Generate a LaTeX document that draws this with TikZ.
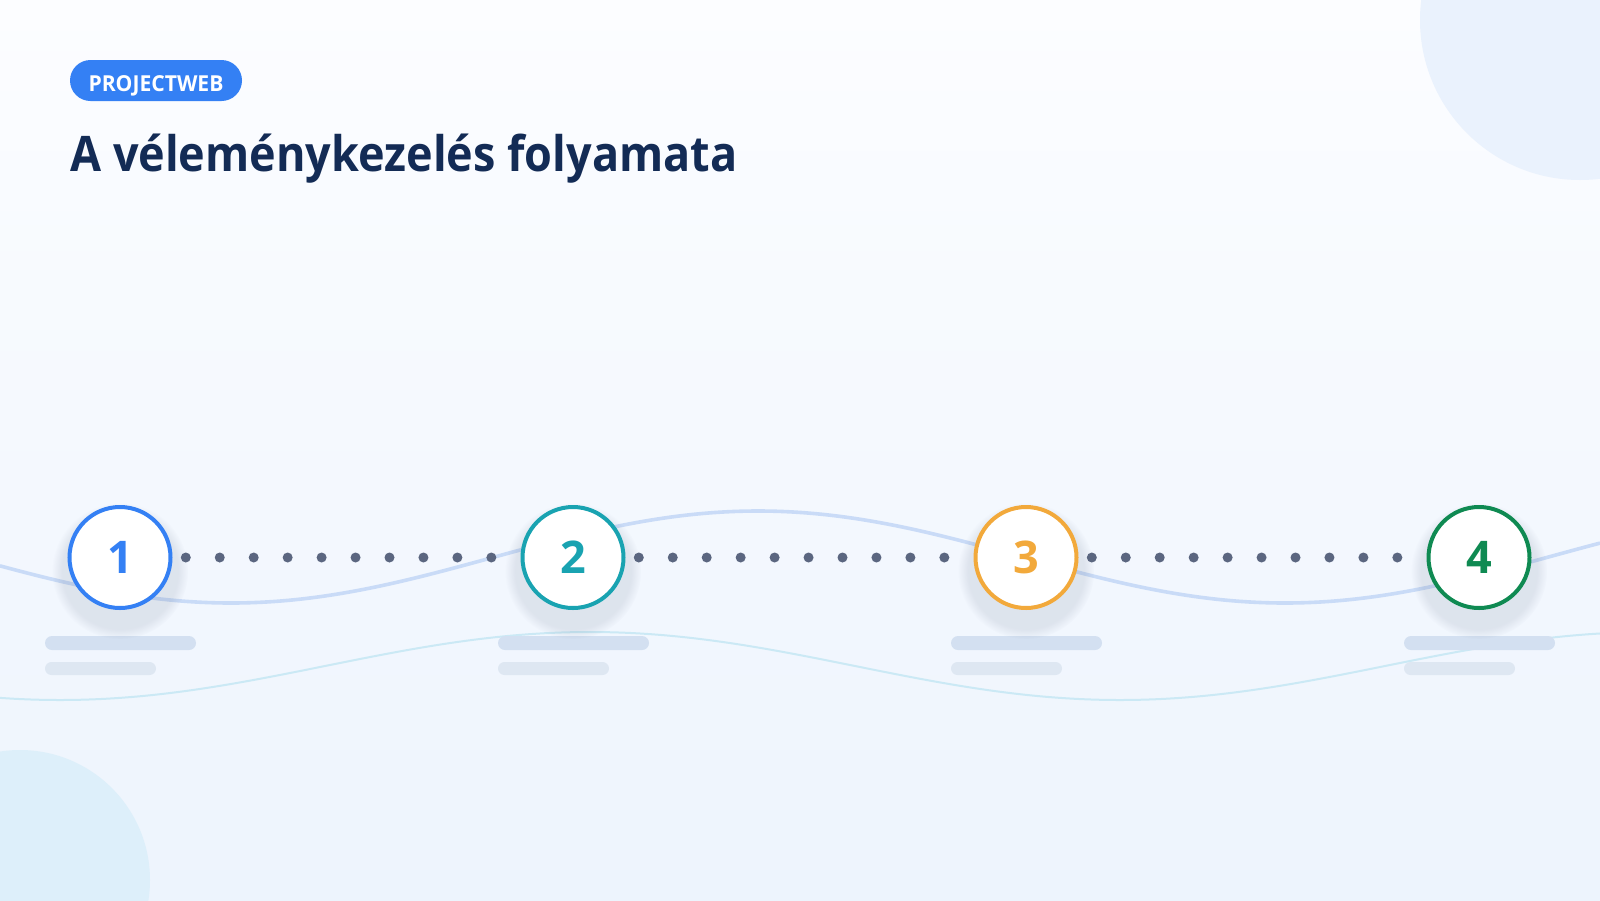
\documentclass[tikz,border=0pt]{standalone}
\usepackage{fontspec}
\setmainfont{Open Sans}
\newfontfamily\titlefont[FakeStretch=0.918]{Open Sans}
\newfontfamily\badgefont[FakeStretch=0.96]{Open Sans}
\usetikzlibrary{shadows,fadings}
\definecolor{bgtop}{HTML}{FCFDFF}
\definecolor{bgbot}{HTML}{EDF4FD}
\definecolor{trcirc}{HTML}{EAF2FD}
\definecolor{blcirc}{HTML}{DDEFFA}
\definecolor{waveA}{HTML}{C9DBF7}
\definecolor{waveB}{HTML}{CBE9F5}
\definecolor{badgeblue}{HTML}{3480F4}
\definecolor{titlecol}{HTML}{132B55}
\definecolor{sblue}{HTML}{3480F4}
\definecolor{steal}{HTML}{19A3B1}
\definecolor{sorange}{HTML}{F2A93B}
\definecolor{sgreen}{HTML}{0F8A52}
\definecolor{dotcol}{HTML}{5B6680}
\definecolor{barA}{HTML}{D3E0F1}
\definecolor{barB}{HTML}{DEE7F2}
\definecolor{shadowcol}{HTML}{56657F}
\tikzset{
  stepcircle/.style={circle, draw=#1, line width=2pt, fill=white,
    minimum size=50.5pt, inner sep=0pt, outer sep=0pt, text=#1,
    font=\fontsize{22.5}{24}\selectfont\bfseries,
    circular drop shadow={shadow xshift=0pt, shadow yshift=-5pt,
      shadow scale=1.35, opacity=0.13, fill=shadowcol}},
  dotline/.style={draw=dotcol, line width=5pt, line cap=round,
    dash pattern=on 0pt off 16.975pt, dash phase=9.325pt},
  badge/.style={fill=badgeblue, text=white, rounded corners=10.25pt,
    minimum width=86pt, minimum height=20.5pt, inner sep=0pt,
    text depth=0pt, font=\badgefont\fontsize{11}{13}\selectfont\bfseries},
  titletext/.style={anchor=base west, inner sep=0pt, text=titlecol,
    font=\titlefont\fontsize{24.5}{28}\selectfont\bfseries},
  barone/.style={fill=barA, rounded corners=3.5pt},
  bartwo/.style={fill=barB, rounded corners=3.25pt},
}
\begin{document}
\begin{tikzpicture}[x=0.5pt,y=-0.5pt]
\useasboundingbox (0,0) rectangle (1600,900);
% background
\shade[top color=bgtop, bottom color=bgbot] (0,0) rectangle (1600,900);
\fill[trcirc] (1580,20) circle[radius=160];
\fill[blcirc] (20,880) circle[radius=130];
% waves
\draw[waveA, line width=1.8pt] plot[domain=0:1600, samples=160, smooth]
  (\x,{557+46*cos((\x-231)/1054*360)});
\draw[waveB, line width=1pt] plot[domain=0:1600, samples=160, smooth]
  (\x,{666-34*cos((\x-590)/1060*360)});
% placeholder bars
\foreach \c in {120,573,1026,1479}{
  \fill[barone] (\c-75,636) rectangle (\c+76,650);
  \fill[bartwo] (\c-75,662) rectangle (\c+36,675);
}
% badge and title
\node[badge] (badge) at (156,80.5) {\raisebox{-3pt}{PROJECTWEB}};
\node[titletext] (title) at (70,171.7) {A véleménykezelés folyamata};
% steps
\node[stepcircle=sblue] (c1) at (120,557.5) {\raisebox{-2pt}{1}};
\node[stepcircle=steal] (c2) at (573,557.5) {\raisebox{-2pt}{2}};
\node[stepcircle=sorange] (c3) at (1026,557.5) {\raisebox{-2pt}{3}};
\node[stepcircle=sgreen] (c4) at (1479,557.5) {\raisebox{-2pt}{4}};
% dotted connectors
\draw[dotline] (c1.east) -- (c2.west);
\draw[dotline] (c2.east) -- (c3.west);
\draw[dotline] (c3.east) -- (c4.west);
\end{tikzpicture}
\end{document}
